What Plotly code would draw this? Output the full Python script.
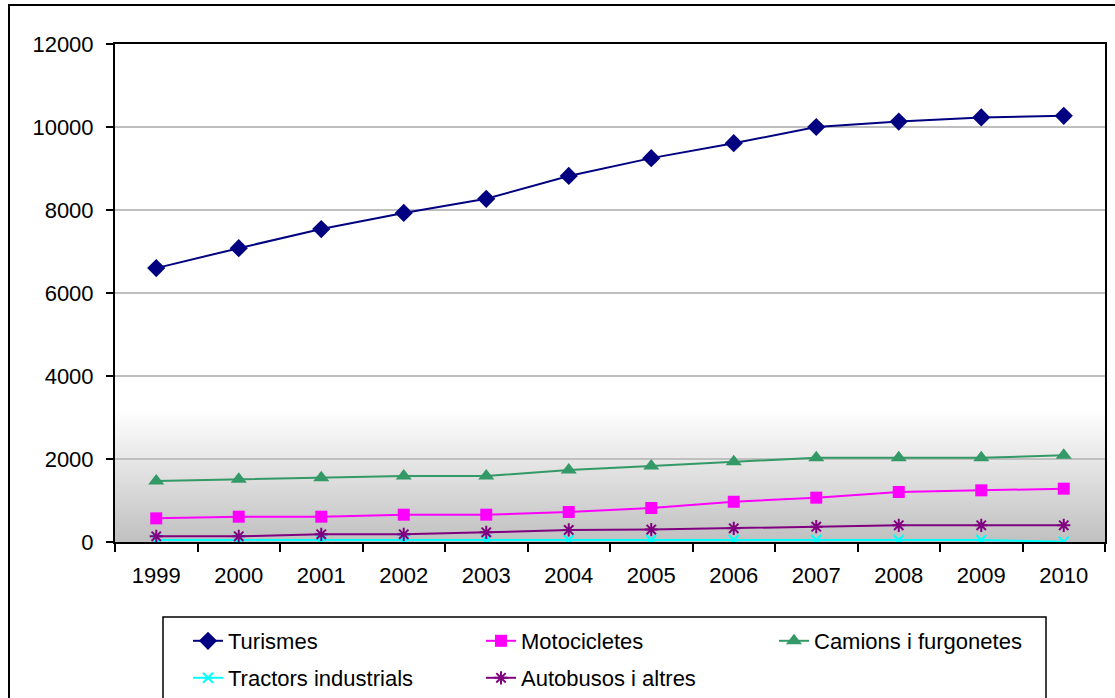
import plotly.graph_objects as go

years = ["1999", "2000", "2001", "2002", "2003", "2004", "2005", "2006", "2007", "2008", "2009", "2010"]
turismes = [6600, 7080, 7540, 7930, 8270, 8820, 9250, 9610, 10000, 10130, 10230, 10270]
motocicletes = [570, 610, 610, 658, 658, 723, 819, 970, 1068, 1205, 1245, 1285]
camions = [1470, 1511, 1550, 1590, 1590, 1735, 1831, 1935, 2031, 2031, 2031, 2089]
tractors = [50, 50, 50, 50, 50, 50, 50, 50, 50, 50, 50, 5]
autobusos = [137, 137, 185, 185, 233, 290, 300, 330, 369, 402, 402, 402]

FONT = "Liberation Sans, Arial, sans-serif"
FS = 22

fig = go.Figure()

series = [
    ("Turismes", turismes, "#000080", "diamond", 14, "legend"),
    ("Motocicletes", motocicletes, "#ff00ff", "square", 12, "legend"),
    ("Camions i furgonetes", camions, "#339966", "triangle-up", 14, "legend"),
    ("Tractors industrials", tractors, "#00ffff", "x-thin", 10, "legend2"),
    ("Autobusos i altres", autobusos, "#800080", "asterisk", 11, "legend2"),
]
for name, vals, color, sym, size, lg in series:
    thin = sym in ("x-thin", "asterisk")
    fig.add_trace(go.Scatter(
        x=years, y=vals, name=name, mode="lines+markers",
        line=dict(color=color, width=2),
        marker=dict(symbol=sym, size=size, color=color,
                    line=dict(color=color, width=2 if thin else 0)),
        legend=lg,
    ))

# gradient background in the lower part of the plot area (stacked, no seams)
shapes = []
n = 80
top = 3200
for i in range(n, 0, -1):
    y1 = top * i / n
    frac = (i - 0.5) / n
    c = int(round(192 + (255 - 192) * frac))
    shapes.append(dict(type="rect", xref="x domain", yref="y", x0=0, x1=1, y0=0, y1=y1,
                       fillcolor=f"rgb({c},{c},{c})", line=dict(width=0), layer="below"))

# outer chart border (left, top) and legend box
shapes.append(dict(type="rect", xref="paper", yref="paper",
                   x0=(9 - 115) / 990, x1=(1125 - 115) / 990,
                   y0=(542 - 720) / 498, y1=(542 - 5) / 498,
                   line=dict(color="black", width=2), fillcolor="rgba(0,0,0,0)", layer="above"))
shapes.append(dict(type="rect", xref="paper", yref="paper",
                   x0=(163 - 115) / 990, x1=(1046 - 115) / 990,
                   y0=(542 - 720) / 498, y1=(542 - 617) / 498,
                   line=dict(color="black", width=1.5), fillcolor="rgba(0,0,0,0)", layer="above"))

legend_common = dict(orientation="h", xanchor="left", yanchor="middle",
                     x=(188 - 115) / 990, entrywidth=248, entrywidthmode="pixels",
                     font=dict(family=FONT, size=FS, color="black"),
                     bgcolor="rgba(0,0,0,0)", borderwidth=0, itemwidth=30)

fig.update_layout(
    width=1115, height=698,
    margin=dict(l=115, r=10, t=44, b=156, autoexpand=False),
    paper_bgcolor="white", plot_bgcolor="white",
    font=dict(family=FONT, size=FS, color="black"),
    showlegend=True,
    legend=dict(**legend_common, y=(542 - 641) / 498),
    legend2=dict(**legend_common, y=(542 - 678) / 498),
    shapes=shapes,
    xaxis=dict(type="category", range=[-0.5, 11.5], showgrid=False, showline=True,
               linecolor="black", linewidth=2,
               mirror=True, ticks="outside", ticklen=8, tickwidth=1.5, tickcolor="black",
               tickson="boundaries", ticklabelstandoff=13,
               tickfont=dict(family=FONT, size=FS, color="black")),
    yaxis=dict(range=[0, 12000], dtick=2000, tickformat="d", showgrid=True,
               gridcolor="#bfbfbf", gridwidth=1.5,
               showline=True, linecolor="black", linewidth=2, mirror=True,
               ticks="outside", ticklen=7, tickwidth=1.5, tickcolor="black",
               ticklabelstandoff=8, zeroline=False,
               tickfont=dict(family=FONT, size=FS, color="black")),
)

fig.write_html("out.html")
